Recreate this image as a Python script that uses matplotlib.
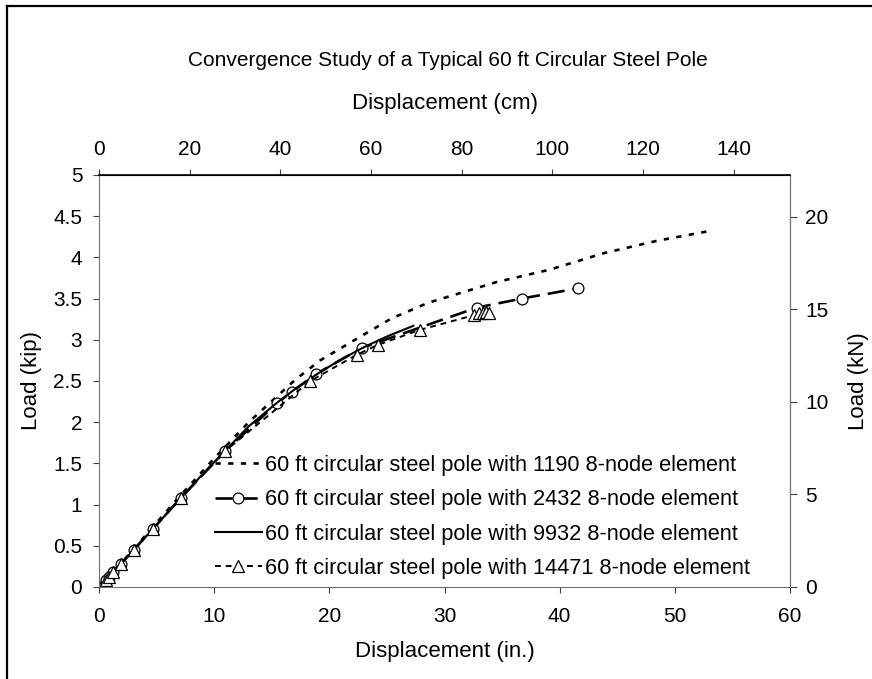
import matplotlib
matplotlib.use("Agg")
import matplotlib.pyplot as plt
from matplotlib.lines import Line2D

plt.rcParams['font.family'] = ['Liberation Sans', 'DejaVu Sans']

# ---------------- data (displacement in inches, load in kip) ----------------
x_1190 = [0, 2.0, 4.0, 7.0, 10.0, 13.0, 17.0, 19.2, 23.2, 25.4, 28.6, 34.5, 39.1, 43.8, 48.4, 53.0]
y_1190 = [0, 0.30, 0.62, 1.10, 1.56, 2.00, 2.51, 2.75, 3.08, 3.26, 3.45, 3.70, 3.85, 4.05, 4.20, 4.32]

x_2432 = [0, 0.6, 0.9, 1.25, 1.9, 3.0, 4.65, 7.1, 10.95, 15.45, 16.75, 18.85, 22.8, 32.8, 36.7, 41.6]
y_2432 = [0, 0.085, 0.125, 0.18, 0.28, 0.45, 0.70, 1.08, 1.65, 2.23, 2.37, 2.585, 2.90, 3.39, 3.50, 3.625]

x_9932 = [0, 0.6, 1.25, 1.9, 3.0, 4.65, 7.1, 9.0, 11.0, 13.0, 15.4, 17.0, 19.0, 21.0, 23.0, 25.0, 27.3]
y_9932 = [0, 0.085, 0.18, 0.28, 0.45, 0.70, 1.08, 1.37, 1.66, 1.95, 2.23, 2.40, 2.59, 2.76, 2.91, 3.04, 3.17]

x_14471 = [0, 0.6, 0.9, 1.25, 1.9, 3.0, 4.65, 7.1, 10.95, 18.35, 22.4, 24.25, 27.85, 32.6, 33.0, 33.3, 33.6, 33.9]
y_14471 = [0, 0.085, 0.125, 0.18, 0.28, 0.45, 0.70, 1.08, 1.65, 2.50, 2.82, 2.94, 3.12, 3.30, 3.32, 3.33, 3.34, 3.33]

labels = ["60 ft circular steel pole with 1190 8-node element",
          "60 ft circular steel pole with 2432 8-node element",
          "60 ft circular steel pole with 9932 8-node element",
          "60 ft circular steel pole with 14471 8-node element"]

x_ticks_in = [0, 10, 20, 30, 40, 50, 60]
x_ticks_cm = [0, 20, 40, 60, 80, 100, 120, 140]
y_ticks_kip = [0, 0.5, 1, 1.5, 2, 2.5, 3, 3.5, 4, 4.5, 5]
y_tick_labels_kip = ["0", "0.5", "1", "1.5", "2", "2.5", "3", "3.5", "4", "4.5", "5"]
y_ticks_kn = [0, 5, 10, 15, 20]

IN2CM = 2.54
KIP2KN = 4.44822

FS = 15        # ticks and title
FS_LAB = 16    # axis titles
FS_LEG = 15.7  # legend
W, H = 872, 679
fig = plt.figure(figsize=(W / 100, H / 100), dpi=100)

# outer frame (top and left edges visible)
fig.add_artist(Line2D([7 / W, 7 / W], [0, 1 - 6 / H], color='black', lw=1.6, transform=fig.transFigure))
fig.add_artist(Line2D([7 / W, 1], [1 - 6 / H, 1 - 6 / H], color='black', lw=1.6, transform=fig.transFigure))

ax = fig.add_axes([99 / W, 1 - 587 / H, (790 - 99) / W, (587 - 175) / H])

ax.plot(x_1190, y_1190, color='black', lw=1.9, dashes=(2.0, 2.8), dash_capstyle='butt',
        label=labels[0])
ax.plot(x_2432, y_2432, color='black', lw=1.9, dashes=(6.5, 3.0), marker='o', ms=7.8,
        mfc='white', mec='black', mew=0.9, label=labels[1])
ax.plot(x_9932, y_9932, color='black', lw=1.5, label=labels[2])
ax.plot(x_14471, y_14471, color='black', lw=1.4, dashes=(3.0, 2.5), marker='^', ms=8.0,
        mfc='white', mec='black', mew=0.9, label=labels[3])

ax.set_xlim(0, 60)
ax.set_ylim(0, 5)
ax.set_xticks(x_ticks_in)
ax.set_yticks(y_ticks_kip)
ax.set_yticklabels(y_tick_labels_kip)

for side in ['left', 'right', 'bottom']:
    ax.spines[side].set_color('#707070')
ax.spines['top'].set_color('black')
ax.spines['top'].set_linewidth(1.2)

ax.tick_params(axis='x', direction='out', length=4.5, width=0.8, color='#404040',
               labelsize=FS, pad=10)
ax.tick_params(axis='y', direction='out', length=4, width=0.8, color='#404040',
               labelsize=FS, pad=8)

sec_x = ax.secondary_xaxis('top', functions=(lambda v: v * IN2CM, lambda v: v / IN2CM))
sec_x.set_xticks(x_ticks_cm)
sec_x.tick_params(direction='out', length=4.5, width=0.8, color='#404040', labelsize=FS, pad=7)
sec_x.spines['top'].set_color('black')

sec_y = ax.secondary_yaxis('right', functions=(lambda v: v * KIP2KN, lambda v: v / KIP2KN))
sec_y.set_yticks(y_ticks_kn)
sec_y.tick_params(direction='out', length=5, width=0.8, color='#404040', labelsize=FS, pad=6)
sec_y.spines['right'].set_color('#707070')

ax.set_xlabel("Displacement (in.)", fontsize=FS_LAB)
ax.xaxis.set_label_coords(0.5, (587 - 651) / 412)
ax.xaxis.label.set_va('center')
ax.set_ylabel("Load (kip)", fontsize=FS_LAB)
ax.yaxis.set_label_coords((32 - 99) / 691, 0.5)
ax.yaxis.label.set_va('center')

sec_x.set_xlabel("Displacement (cm)", fontsize=FS_LAB)
sec_x.xaxis.set_label_coords(0.5, (587 - 104) / 412, transform=ax.transAxes)
sec_x.xaxis.label.set_va('center')
sec_y.set_ylabel("Load (kN)", fontsize=FS_LAB)
sec_y.yaxis.set_label_coords((858 - 99) / 691, 0.5, transform=ax.transAxes)
sec_y.yaxis.label.set_va('center')

fig.text(448 / W, 1 - 60 / H, "Convergence Study of a Typical 60 ft Circular Steel Pole",
         ha='center', va='center', fontsize=FS)

ax.legend(loc='upper left', bbox_to_anchor=((215 - 99) / 691, (587 - 455) / 412),
          frameon=False, fontsize=FS_LEG, handlelength=2.15, handletextpad=0.15,
          labelspacing=0.61, borderpad=0, borderaxespad=0)

fig.savefig("out.png", dpi=100)
